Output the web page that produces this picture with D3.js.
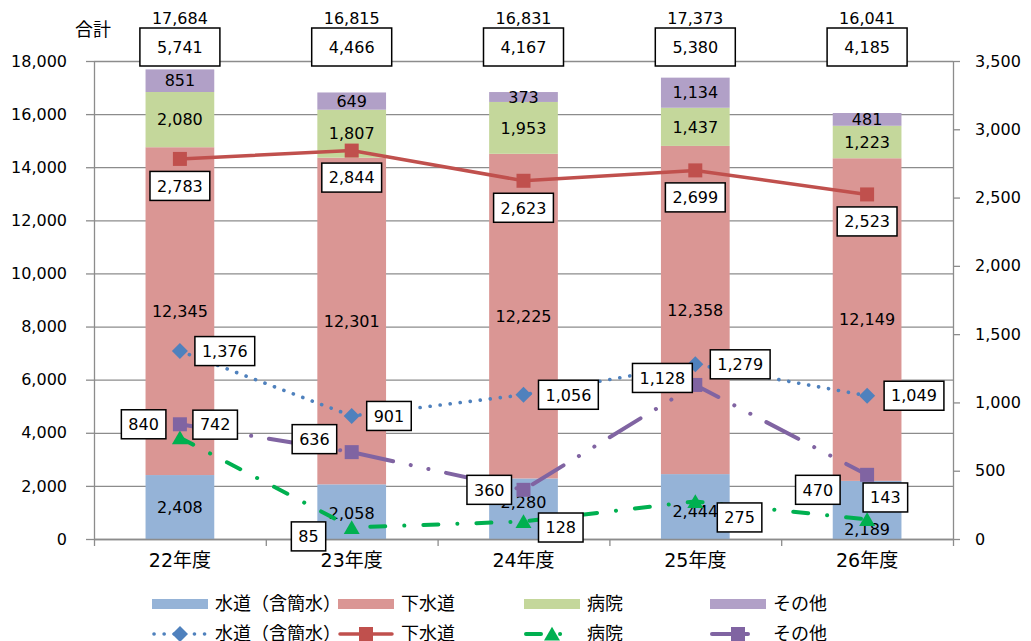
<!DOCTYPE html>
<html>
<head>
<meta charset="utf-8">
<script src="https://cdn.jsdelivr.net/npm/d3@7/dist/d3.min.js"></script>
<style>
  body { margin: 0; background: #fff; }
  svg text { font-family: "DejaVu Sans", "Noto Sans CJK JP", sans-serif; fill: #000; }
</style>
</head>
<body>
<div id="chart"></div>
<script>

// categories and values (left axis = bars, right axis = lines)
var years = ['22年度', '23年度', '24年度', '25年度', '26年度'];
var seriesNames = ['水道（含簡水）', '下水道', '病院', 'その他'];

var barSuido = [2408, 2058, 2280, 2444, 2189];
var barGesui = [12345, 12301, 12225, 12358, 12149];
var barByoin = [2080, 1807, 1953, 1437, 1223];
var barOther = [851, 649, 373, 1134, 481];
var barTotal = [17684, 16815, 16831, 17373, 16041];

var lineSuido = [1376, 901, 1056, 1279, 1049];
var lineGesui = [2783, 2844, 2623, 2699, 2523];
var lineByoin = [742, 85, 128, 275, 143];
var lineOther = [840, 636, 360, 1128, 470];
var lineTotal = [5741, 4466, 4167, 5380, 4185];

var leftTicks = [0, 2000, 4000, 6000, 8000, 10000, 12000, 14000, 16000, 18000];
var rightTicks = [0, 500, 1000, 1500, 2000, 2500, 3000, 3500];

var svgWidth = 1031;
var svgHeight = 641;
var plot = {left: 94, right: 953, top: 61, bottom: 539};

var barColors = ['#95b3d7', '#da9694', '#c4d79b', '#b1a0c7'];
var lineColors = ['#4f81bd', '#c0504d', '#00b050', '#8064a2'];
var lineDash = ['0.1 10', null, '15 19 0.1 19', '36 18 0.1 18 0.1 18'];
var lineWidth = [3.6, 3.5, 4, 4];
var markers = ['diamond', 'square', 'triangle', 'square'];

// label placement per line point: [side, gap, dy]
var labelPlace = [
  [['r', 15, 0], ['r', 15, 0], ['r', 15, 0], ['r', 15, 0], ['r', 17, 0]],
  [['b', 0, 27], ['b', 0, 27], ['b', 0, 27], ['b', 0, 27], ['b', 0, 27]],
  [['r', 13, -13], ['l', 26, 9], ['r', 15, 6], ['r', 22, 16], ['r', -4, -22]],
  [['l', 14, 0], ['l', 15, -13], ['l', 12, 0], ['l', 3, -7], ['l', 27, 15]]
];
// nudges for the 水道 segment labels (moved clear of line labels)
var segNudge = [0, 2, -6, 5, 19];

var fmt = d3.format(',');
var jpFont = '18px';

var svg = d3.select('#chart').append('svg')
  .attr('width', svgWidth)
  .attr('height', svgHeight);

var x = d3.scaleBand()
  .domain(years)
  .range([plot.left, plot.right])
  .paddingInner(0.6)
  .paddingOuter(0.3);

var xEdge = d3.scaleLinear()
  .domain([0, years.length])
  .range([plot.left, plot.right]);

var yL = d3.scaleLinear().domain([0, 18000]).range([plot.bottom, plot.top]);
var yR = d3.scaleLinear().domain([0, 3500]).range([plot.bottom, plot.top]);

function cx(i) { return x(years[i]) + x.bandwidth() / 2; }

// gridlines
svg.append('g')
  .attr('transform', `translate(${plot.left}, 0)`)
  .call(d3.axisLeft(yL).tickValues(leftTicks).tickSize(-(plot.right - plot.left)).tickFormat(''))
  .call(g => g.select('.domain').remove())
  .call(g => g.selectAll('line').attr('stroke', '#8c8c8c').attr('stroke-width', 1.3));

// left axis
var leftAxis = svg.append('g')
  .attr('transform', `translate(${plot.left}, 0)`)
  .call(d3.axisLeft(yL).tickValues(leftTicks).tickSize(8).tickSizeOuter(0).tickPadding(19).tickFormat(fmt));

// right axis
var rightAxis = svg.append('g')
  .attr('transform', `translate(${plot.right}, 0)`)
  .call(d3.axisRight(yR).tickValues(rightTicks).tickSize(7).tickSizeOuter(0).tickPadding(15).tickFormat(fmt));

[leftAxis, rightAxis].forEach(function(a) {
  a.selectAll('path, line').attr('stroke', '#8c8c8c').attr('stroke-width', 1.3);
  a.selectAll('text').attr('font-size', '16px');
});

// stacked bars
var barSeries = [barSuido, barGesui, barByoin, barOther];
var stackData = years.map(function(y, i) {
  var row = {year: y};
  seriesNames.forEach(function(s, k) { row[s] = barSeries[k][i]; });
  return row;
});
var stacked = d3.stack().keys(seriesNames)(stackData);

var barGroup = svg.append('g');
stacked.forEach(function(layer, k) {
  barGroup.selectAll('.bar' + k)
    .data(layer)
    .enter()
    .append('rect')
    .attr('x', d => x(d.data.year))
    .attr('width', x.bandwidth())
    .attr('y', d => yL(d[1]))
    .attr('height', d => yL(d[0]) - yL(d[1]))
    .attr('fill', barColors[k]);
});

// category axis (ticks at the category edges)
svg.append('g')
  .attr('transform', `translate(0, ${plot.bottom})`)
  .call(d3.axisBottom(xEdge).tickValues(d3.range(years.length + 1)).tickSize(7).tickSizeOuter(0).tickFormat(''))
  .call(g => g.selectAll('path, line').attr('stroke', '#8c8c8c').attr('stroke-width', 1.3));

svg.append('g')
  .attr('transform', `translate(0, ${plot.bottom})`)
  .call(d3.axisBottom(x).tickSize(0).tickPadding(15))
  .call(g => g.select('.domain').remove())
  .call(g => g.selectAll('text').attr('font-size', '19px'));

// segment labels
stacked.forEach(function(layer, k) {
  svg.selectAll('.seglabel' + k)
    .data(layer)
    .enter()
    .append('text')
    .attr('x', d => x(d.data.year) + x.bandwidth() / 2)
    .attr('y', (d, i) => (yL(d[0]) + yL(d[1])) / 2 + (k === 0 ? segNudge[i] : 0))
    .attr('dy', '0.36em')
    .attr('text-anchor', 'middle')
    .attr('font-size', '16px')
    .text(d => fmt(d[1] - d[0]));
});

// bar totals
svg.selectAll('.bartotal')
  .data(barTotal)
  .enter()
  .append('text')
  .attr('x', (d, i) => cx(i))
  .attr('y', 18)
  .attr('dy', '0.36em')
  .attr('text-anchor', 'middle')
  .attr('font-size', '16px')
  .text(d => fmt(d));

svg.append('text')
  .attr('x', 93)
  .attr('y', 30)
  .attr('dy', '0.36em')
  .attr('text-anchor', 'middle')
  .attr('font-size', jpFont)
  .text('合計');

// boxed line totals
lineTotal.forEach(function(v, i) {
  svg.append('rect')
    .attr('x', cx(i) - 40)
    .attr('y', 28)
    .attr('width', 80)
    .attr('height', 38)
    .attr('fill', '#fff')
    .attr('stroke', '#000')
    .attr('stroke-width', 1.5);
  svg.append('text')
    .attr('x', cx(i))
    .attr('y', 47)
    .attr('dy', '0.36em')
    .attr('text-anchor', 'middle')
    .attr('font-size', '16px')
    .text(fmt(v));
});

function markerPath(type) {
  if (type === 'diamond') return 'M0,-8L8,0L0,8L-8,0Z';
  if (type === 'square') return 'M-7,-7H7V7H-7Z';
  return d3.symbol().type(d3.symbolTriangle).size(110)();
}

// lines
var lineSeries = [lineSuido, lineGesui, lineByoin, lineOther];
var lineGen = d3.line()
  .x((d, i) => cx(i))
  .y(d => yR(d));

lineSeries.forEach(function(vals, k) {
  svg.append('path')
    .datum(vals)
    .attr('d', lineGen)
    .attr('fill', 'none')
    .attr('stroke', lineColors[k])
    .attr('stroke-width', lineWidth[k])
    .attr('stroke-linecap', 'round')
    .attr('stroke-dasharray', lineDash[k]);
  svg.selectAll('.mk' + k)
    .data(vals)
    .enter()
    .append('path')
    .attr('d', markerPath(markers[k]))
    .attr('transform', (d, i) => `translate(${cx(i)}, ${yR(d) + (markers[k] === 'triangle' ? 2 : 0)})`)
    .attr('fill', lineColors[k]);
});

// boxed point labels
lineSeries.forEach(function(vals, k) {
  vals.forEach(function(v, i) {
    var place = labelPlace[k][i];
    var g = svg.append('g');
    var t = g.append('text')
      .attr('text-anchor', 'middle')
      .attr('dy', '0.36em')
      .attr('font-size', '16px')
      .text(fmt(v));
    var w = t.node().getComputedTextLength() + 14;
    var h = 29;
    var px = cx(i), py = yR(v);
    var bx;
    if (place[0] === 'r') bx = px + place[1] + w / 2;
    else if (place[0] === 'l') bx = px - place[1] - w / 2;
    else bx = px;
    var by = py + place[2];
    g.insert('rect', 'text')
      .attr('x', bx - w / 2)
      .attr('y', by - h / 2)
      .attr('width', w)
      .attr('height', h)
      .attr('fill', '#fff')
      .attr('stroke', '#000')
      .attr('stroke-width', 1.5);
    t.attr('x', bx).attr('y', by);
  });
});

// legend
var legend = svg.append('g');
seriesNames.forEach(function(name, k) {
  var lx = 152 + k * 186;
  legend.append('rect')
    .attr('x', lx)
    .attr('y', 599)
    .attr('width', 56)
    .attr('height', 10)
    .attr('fill', barColors[k]);
  legend.append('text')
    .attr('x', lx + 63)
    .attr('y', 604)
    .attr('dy', '0.36em')
    .attr('font-size', jpFont)
    .text(name);

  legend.append('line')
    .attr('x1', lx + 2)
    .attr('x2', lx + 54)
    .attr('y1', 634)
    .attr('y2', 634)
    .attr('stroke', lineColors[k])
    .attr('stroke-width', lineWidth[k])
    .attr('stroke-linecap', 'round')
    .attr('stroke-dasharray', lineDash[k]);
  legend.append('path')
    .attr('d', markerPath(markers[k]))
    .attr('transform', `translate(${lx + 28}, ${634 + (markers[k] === 'triangle' ? 2 : 0)})`)
    .attr('fill', lineColors[k]);
  legend.append('text')
    .attr('x', lx + 63)
    .attr('y', 634)
    .attr('dy', '0.36em')
    .attr('font-size', jpFont)
    .text(name);
});

</script>
</body>
</html>
